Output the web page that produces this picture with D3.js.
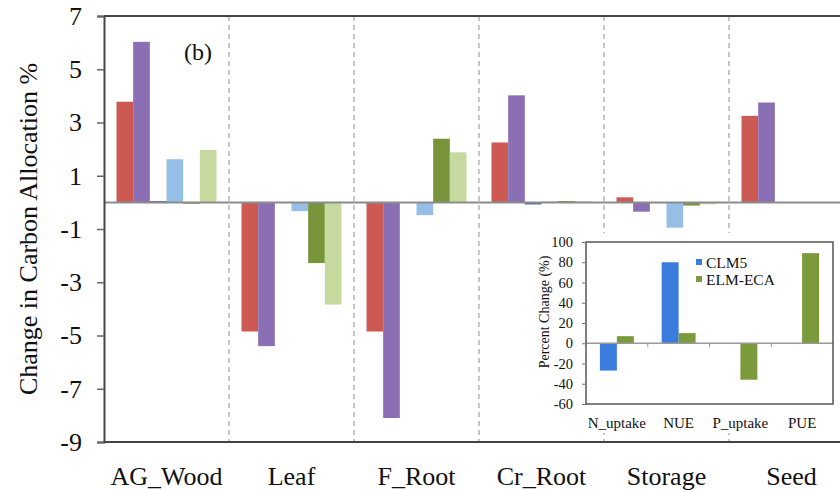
<!DOCTYPE html>
<html>
<head>
<meta charset="utf-8">
<script src="https://cdn.jsdelivr.net/npm/d3@7"></script>
<style>
  html, body { margin: 0; padding: 0; background: #fff; }
  svg { display: block; }
</style>
</head>
<body>
<svg id="chart" width="840" height="490"></svg>
<script>
// Carbon allocation categories and the six model-run series (% change)
const categories = ["AG_Wood", "Leaf", "F_Root", "Cr_Root", "Storage", "Seed"];
const seriesNames = ["runA", "runB", "runC", "runD", "runE", "runF"];
const seriesColors = ["#cd5a52", "#8a6fb4", "#4f6fa8", "#95bfe6", "#77943a", "#c6d99e"];
const runA = [3.78, -4.85, -4.85, 2.25, 0.19, 3.25];
const runB = [6.03, -5.40, -8.10, 4.02, -0.35, 3.75];
const runC = [0.05, 0.00, 0.00, -0.08, -0.03, 0.00];
const runD = [1.62, -0.33, -0.48, 0.03, -0.95, 0.00];
const runE = [-0.05, -2.28, 2.39, 0.05, -0.12, 0.00];
const runF = [1.97, -3.84, 1.88, 0.04, -0.07, 0.00];
const seriesValues = [runA, runB, runC, runD, runE, runF];
const yTicks = [-9, -7, -5, -3, -1, 1, 3, 5, 7];

// Inset: nutrient uptake / use-efficiency changes
const insetCategories = ["N_uptake", "NUE", "P_uptake", "PUE"];
const insetSeries = ["CLM5", "ELM-ECA"];
const insetColors = ["#3b7ddd", "#7b9a3c"];
const clm5 = [-27, 80, 0, 0];
const elmEca = [7, 10, -36, 89];
const insetValues = [clm5, elmEca];
const insetTicks = [-60, -40, -20, 0, 20, 40, 60, 80, 100];

const FONT = "'Liberation Serif', 'Times New Roman', Tinos, 'DejaVu Serif', serif";

const svg = d3.select("#chart");

// ---------- main panel ----------
const plotLeft = 104, plotRight = 854, plotTop = 16, plotBottom = 442;
const x = d3.scaleBand().domain(categories).range([plotLeft, plotRight]);
const xs = d3.scaleBand().domain(seriesNames).range([0, x.bandwidth()]).paddingOuter(0.75);
const y = d3.scaleLinear().domain([-9, 7]).range([plotBottom, plotTop]);

// dashed category separators
svg.append("g").selectAll("line")
  .data(categories.slice(1))
  .join("line")
  .attr("x1", d => x(d)).attr("x2", d => x(d))
  .attr("y1", plotTop).attr("y2", plotBottom)
  .attr("stroke", "#b5b5b5").attr("stroke-width", 1.5)
  .attr("stroke-dasharray", "5,4");

// bars
const rows = [];
seriesValues.forEach((vals, si) => vals.forEach((v, ci) => rows.push({ c: categories[ci], s: seriesNames[si], v, color: seriesColors[si] })));
svg.append("g").selectAll("rect")
  .data(rows)
  .join("rect")
  .attr("x", d => x(d.c) + xs(d.s))
  .attr("width", xs.bandwidth())
  .attr("y", d => Math.min(y(d.v), y(0)))
  .attr("height", d => Math.abs(y(d.v) - y(0)))
  .attr("fill", d => d.color);

// zero line
svg.append("line")
  .attr("x1", plotLeft).attr("x2", 840)
  .attr("y1", y(0)).attr("y2", y(0))
  .attr("stroke", "#8c8c8c").attr("stroke-width", 2);

// top frame line
svg.append("line").attr("x1", plotLeft).attr("x2", 840).attr("y1", plotTop).attr("y2", plotTop)
  .attr("stroke", "#444").attr("stroke-width", 2);

// y axis
const yAxis = svg.append("g")
  .attr("transform", `translate(${plotLeft},0)`)
  .call(d3.axisLeft(y).tickValues(yTicks).tickFormat(d => String(d)).tickSize(7).tickPadding(15));
yAxis.attr("font-family", FONT).attr("font-size", 26);
yAxis.select(".domain").attr("stroke", "#444").attr("stroke-width", 2);
yAxis.selectAll(".tick line").attr("stroke", "#666").attr("stroke-width", 1.5);
yAxis.selectAll(".tick text").attr("fill", "#111");

// category labels
svg.append("g").selectAll("text")
  .data(categories)
  .join("text")
  .attr("x", d => x(d) + x.bandwidth() / 2)
  .attr("y", 485)
  .attr("text-anchor", "middle")
  .attr("font-family", FONT)
  .attr("font-size", 26)
  .attr("fill", "#111")
  .text(d => d);

// y title
svg.append("text")
  .attr("transform", "translate(37,229) rotate(-90)")
  .attr("text-anchor", "middle")
  .attr("font-family", FONT)
  .attr("font-size", 26)
  .attr("fill", "#111")
  .text("Change in Carbon Allocation %");

// panel tag
svg.append("text").attr("x", 198).attr("y", 60).attr("text-anchor", "middle")
  .attr("font-family", FONT).attr("font-size", 24).attr("fill", "#111").text("(b)");

// ---------- inset panel ----------
svg.append("rect").attr("x", 533).attr("y", 233).attr("width", 307).attr("height", 200).attr("fill", "#fff");

const iLeft = 586, iRight = 833, iTop = 242, iBottom = 404;
const ix = d3.scaleBand().domain(insetCategories).range([iLeft, iRight]);
const ixs = d3.scaleBand().domain(insetSeries).range([0, ix.bandwidth()]).paddingOuter(0.82);
const iy = d3.scaleLinear().domain([-60, 100]).range([iBottom, iTop]);

const irows = [];
insetValues.forEach((vals, si) => vals.forEach((v, ci) => irows.push({ c: insetCategories[ci], s: insetSeries[si], v, color: insetColors[si] })));
svg.append("g").selectAll("rect")
  .data(irows)
  .join("rect")
  .attr("x", d => ix(d.c) + ixs(d.s))
  .attr("width", ixs.bandwidth())
  .attr("y", d => Math.min(iy(d.v), iy(0)))
  .attr("height", d => Math.abs(iy(d.v) - iy(0)))
  .attr("fill", d => d.color);

// inset zero line with category ticks
svg.append("line").attr("x1", iLeft).attr("x2", iRight).attr("y1", iy(0)).attr("y2", iy(0))
  .attr("stroke", "#9a9a9a").attr("stroke-width", 1.5);
svg.append("g").selectAll("line")
  .data(insetCategories.slice(1))
  .join("line")
  .attr("x1", d => ix(d)).attr("x2", d => ix(d))
  .attr("y1", iy(0)).attr("y2", iy(0) + 4)
  .attr("stroke", "#9a9a9a").attr("stroke-width", 1);

// inset frame
svg.append("rect").attr("x", iLeft).attr("y", iTop).attr("width", iRight - iLeft).attr("height", iBottom - iTop)
  .attr("fill", "none").attr("stroke", "#555").attr("stroke-width", 1.5);

// inset y axis
const iyAxis = svg.append("g")
  .attr("transform", `translate(${iLeft},0)`)
  .call(d3.axisLeft(iy).tickValues(insetTicks).tickFormat(d => String(d)).tickSize(4).tickPadding(9));
iyAxis.attr("font-family", FONT).attr("font-size", 14.5);
iyAxis.select(".domain").remove();
iyAxis.selectAll(".tick line").attr("stroke", "#777");
iyAxis.selectAll(".tick text").attr("fill", "#111");

// inset category labels
svg.append("g").selectAll("text")
  .data(insetCategories)
  .join("text")
  .attr("x", d => ix(d) + ix.bandwidth() / 2)
  .attr("y", 428)
  .attr("text-anchor", "middle")
  .attr("font-family", FONT)
  .attr("font-size", 15)
  .attr("fill", "#111")
  .text(d => d);

// inset y title
svg.append("text")
  .attr("transform", "translate(549,312) rotate(-90)")
  .attr("text-anchor", "middle")
  .attr("font-family", FONT)
  .attr("font-size", 14)
  .attr("fill", "#111")
  .text("Percent Change (%)");

// inset legend
const legend = svg.append("g").selectAll("g")
  .data(insetSeries)
  .join("g")
  .attr("transform", (d, i) => `translate(696,${259 + i * 17})`);
legend.append("rect").attr("width", 6).attr("height", 6).attr("fill", (d, i) => insetColors[i]);
legend.append("text").attr("x", 10).attr("y", 9).attr("font-family", FONT).attr("font-size", 15.5)
  .attr("fill", "#111").text(d => d);

// bottom axis line
svg.append("line").attr("x1", plotLeft).attr("x2", 840).attr("y1", plotBottom).attr("y2", plotBottom)
  .attr("stroke", "#444").attr("stroke-width", 2);
</script>
</body>
</html>
